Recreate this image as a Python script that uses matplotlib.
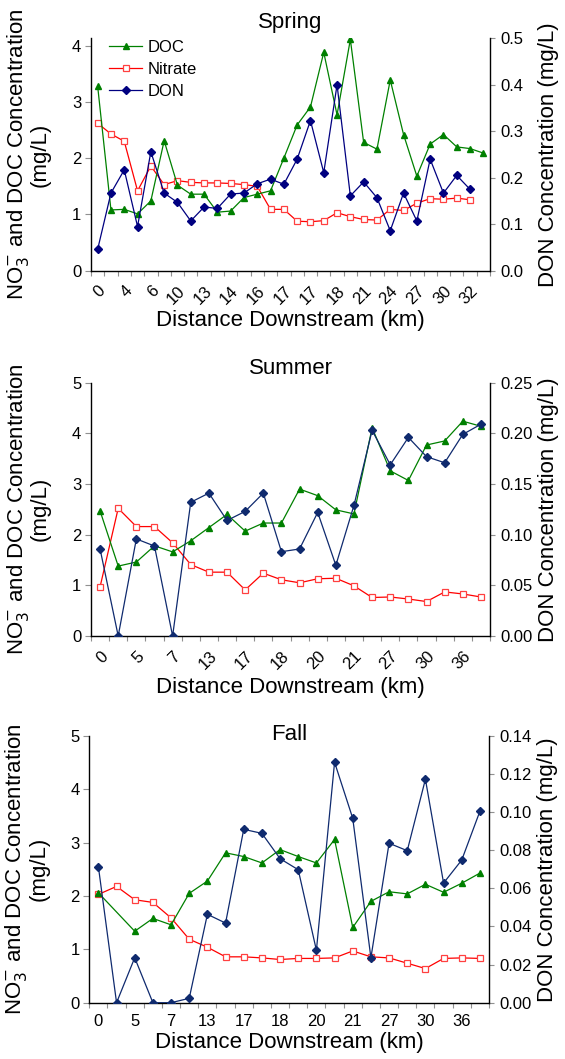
import matplotlib
matplotlib.use('Agg')
import matplotlib.pyplot as plt
import numpy as np

plt.rcParams['font.family'] = ['Liberation Sans', 'DejaVu Sans']

nan = np.nan

# ---------------- Spring ----------------
spring_labels = ['0', '4', '6', '10', '13', '14', '16', '17', '17', '18', '21', '24', '27', '30', '32']
spring_doc = [3.28, 1.08, 1.09, 1.01, 1.24, 2.31, 1.52, 1.36, 1.36, 1.04, 1.06, 1.30, 1.36, 1.42, 2.00,
              2.59, 2.91, 3.88, 2.77, 4.11, 2.28, 2.16, 3.39, 2.42, 1.68, 2.25, 2.42, 2.20, 2.17, 2.09]
spring_nitrate = [2.62, 2.43, 2.30, 1.42, 1.86, 1.53, 1.60, 1.57, 1.56, 1.56, 1.55, 1.53, 1.50, 1.09, 1.09,
                  0.88, 0.87, 0.89, 1.03, 0.96, 0.91, 0.90, 1.09, 1.07, 1.20, 1.28, 1.27, 1.29, 1.26, nan]
spring_don = [0.046, 0.167, 0.217, 0.095, 0.256, 0.167, 0.147, 0.107, 0.137, 0.134, 0.165, 0.167, 0.187,
              0.197, 0.186, 0.240, 0.323, 0.211, 0.400, 0.161, 0.191, 0.157, 0.086, 0.167, 0.107, 0.240,
              0.167, 0.205, 0.175, nan]

# ---------------- Summer ----------------
summer_labels = ['0', '5', '7', '13', '17', '18', '20', '21', '27', '30', '36']
summer_doc = [2.47, 1.38, 1.46, 1.78, 1.66, 1.88, 2.14, 2.40, 2.07, 2.23, 2.23,
              2.90, 2.77, 2.49, 2.41, 4.11, 3.26, 3.07, 3.77, 3.85, 4.24, 4.14]
summer_nitrate = [0.97, 2.52, 2.16, 2.16, 1.84, 1.41, 1.26, 1.26, 0.91, 1.24, 1.11,
                  1.05, 1.13, 1.14, 0.99, 0.76, 0.77, 0.73, 0.68, 0.87, 0.83, 0.77]
summer_don = [0.0859, 0.0, 0.0958, 0.0888, 0.0, 0.132, 0.141, 0.114, 0.123, 0.141, 0.0832,
              0.0859, 0.122, 0.0698, 0.129, 0.203, 0.169, 0.196, 0.177, 0.171, 0.199, 0.209]

# ---------------- Fall ----------------
fall_labels = ['0', '5', '7', '13', '17', '18', '20', '21', '27', '30', '36']
fall_doc = [2.06, nan, 1.34, 1.58, 1.46, 2.05, 2.28, 2.81, 2.74, 2.62, 2.87,
            2.74, 2.62, 3.06, 1.41, 1.90, 2.08, 2.04, 2.22, 2.07, 2.24, 2.43]
fall_nitrate = [2.03, 2.18, 1.93, 1.88, 1.59, 1.19, 1.04, 0.86, 0.86, 0.84, 0.81,
                0.83, 0.83, 0.84, 0.97, 0.86, 0.84, 0.74, 0.64, 0.83, 0.84, 0.83]
fall_don = [0.0714, 0.0, 0.0236, 0.0, 0.0, 0.0023, 0.0464, 0.0418, 0.0910, 0.0889, 0.0756,
            0.0698, 0.0275, 0.1262, 0.0968, 0.0236, 0.0837, 0.0798, 0.1173, 0.0628, 0.0749, 0.1005]

W, H = 565, 1059
fig = plt.figure(figsize=(W / 100, H / 100), dpi=100)

GREEN = '#008000'
RED = '#ff0000'
TICKC = '#909090'


def px_rect(l, t, r, b):
    return [l / W, 1 - b / H, (r - l) / W, (b - t) / H]


def plot_bridged(ax, x, y, **kw):
    x = np.asarray(x, float)
    y = np.asarray(y, float)
    m = ~np.isnan(y)
    return ax.plot(x[m], y[m], **kw)[0]


def panel(rect, doc, nitrate, don, labels, lmax, lticks, rmax, rticks, rfmt,
          title, title_y, rot, don_color, legend, xlab_y, ylab_x, rlab_x):
    ax = fig.add_axes(rect)
    n = len(doc)
    x = np.arange(n)
    h1 = plot_bridged(ax, x, doc, color=GREEN, lw=0.9, marker='^', ms=5,
                      mfc=GREEN, mec=GREEN, label='DOC', zorder=3)
    h2 = plot_bridged(ax, x, nitrate, color=RED, lw=0.9, marker='s', ms=4.3,
                      mfc='white', mec='#ff4040', mew=0.9, label='Nitrate', zorder=2)
    ax.set_xlim(-0.5, n - 0.5)
    ax.set_ylim(0, lmax)
    ax.set_yticks(lticks)
    ax.set_yticklabels([str(t) for t in lticks])
    ax.spines['top'].set_visible(False)
    ax.spines['right'].set_visible(False)
    for s in ('left', 'bottom'):
        ax.spines[s].set_linewidth(1.0)
    ax.tick_params(axis='y', direction='out', length=4, width=0.8, color=TICKC,
                   labelsize=12, pad=3)
    # x: labels at every other category, tick marks at category boundaries
    ax.set_xticks(np.arange(0, n, 2)[:len(labels)])
    if rot:
        ax.set_xticklabels(labels, rotation=45, ha='right', rotation_mode='anchor')
        ax.tick_params(axis='x', which='major', length=0, labelsize=12, pad=9)
    else:
        ax.set_xticklabels(labels)
        ax.tick_params(axis='x', which='major', length=0, labelsize=12, pad=8)
    ax.set_xticks(np.arange(-0.5, n, 1), minor=True)
    ax.tick_params(axis='x', which='minor', direction='out', length=3.5, width=0.8, color=TICKC)
    ax.set_xlabel('Distance Downstream (km)', fontsize=16)
    ax.xaxis.set_label_coords(0.5, xlab_y)
    ax.set_ylabel('NO$_3^{-}$ and DOC Concentration\n(mg/L)', fontsize=16, linespacing=0.95)
    ax.yaxis.set_label_coords(ylab_x, 0.5)

    ax2 = ax.twinx()
    h3 = plot_bridged(ax2, x, don, color=don_color, lw=0.9, marker='D', ms=3.6,
                      mfc=don_color, mec=don_color, label='DON', zorder=4)
    ax2.set_ylim(0, rmax)
    ax2.set_yticks(rticks)
    ax2.set_yticklabels([rfmt.format(t) for t in rticks])
    ax2.spines['top'].set_visible(False)
    ax2.spines['left'].set_visible(False)
    ax2.spines['bottom'].set_visible(False)
    ax2.spines['right'].set_linewidth(1.0)
    ax2.tick_params(axis='y', direction='out', length=3.6, width=0.8, color=TICKC,
                    labelsize=12, pad=4)
    ax2.set_ylabel('DON Concentration (mg/L)', fontsize=16)
    ax2.yaxis.set_label_coords(rlab_x, 0.5)

    fig.text(0.5 * (rect[0] * 2 + rect[2]), 1 - title_y / H, title, fontsize=16,
             ha='center', va='baseline')
    if legend:
        ax2.legend([h1, h2, h3], ['DOC', 'Nitrate', 'DON'], loc='upper left',
                   bbox_to_anchor=(0.02, 1.035), frameon=False, fontsize=12,
                   handlelength=2.0, handletextpad=0.3, labelspacing=0.42,
                   borderaxespad=0.2)
    return ax, ax2


panel(px_rect(91, 38.3, 490, 270.7), spring_doc, spring_nitrate, spring_don, spring_labels,
      4.13, [0, 1, 2, 3, 4], 0.5, [0.0, 0.1, 0.2, 0.3, 0.4, 0.5], '{:.1f}',
      'Spring', 28, True, '#000080', True, -0.17, -0.10, 1.12)

panel(px_rect(91, 382.7, 490, 636), summer_doc, summer_nitrate, summer_don, summer_labels,
      5, [0, 1, 2, 3, 4, 5], 0.25, [0.0, 0.05, 0.10, 0.15, 0.20, 0.25], '{:.2f}',
      'Summer', 374, True, '#0f2a6e', False, -0.16, -0.10, 1.12)

panel(px_rect(89.3, 736, 489, 1002.7), fall_doc, fall_nitrate, fall_don, fall_labels,
      5, [0, 1, 2, 3, 4, 5], 0.14, [0.0, 0.02, 0.04, 0.06, 0.08, 0.10, 0.12, 0.14], '{:.2f}',
      'Fall', 740, False, '#0f2a6e', False, -0.11, -0.10, 1.12)

fig.savefig('out.png', dpi=100)
